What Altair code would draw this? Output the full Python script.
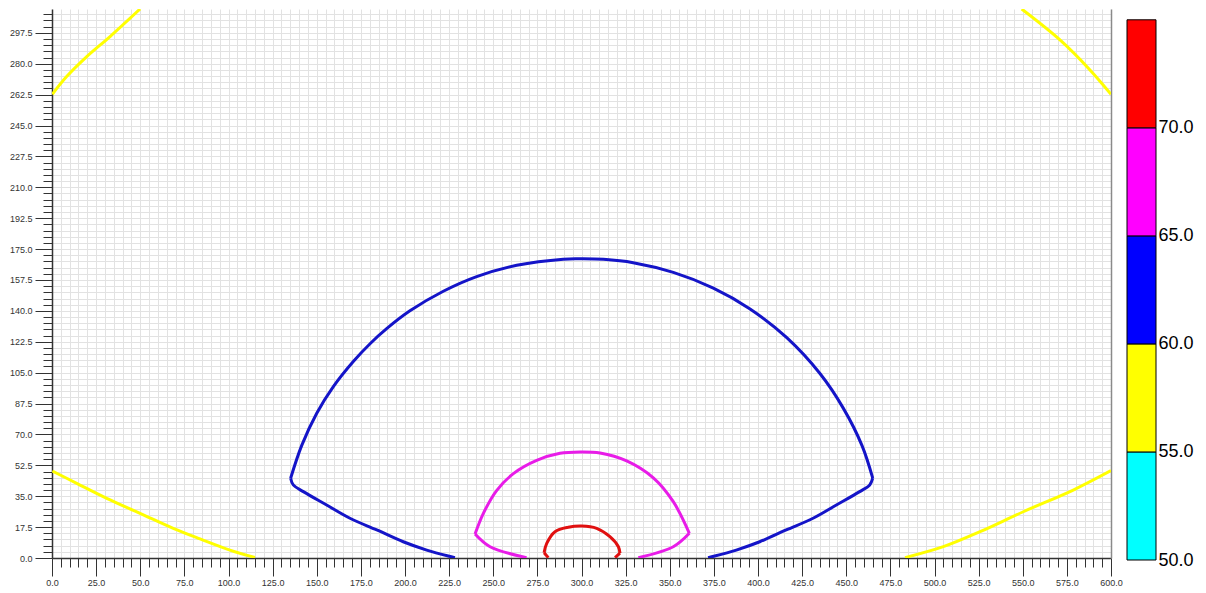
import altair as alt
import pandas as pd

# ---- contour lines (x, y in data units) ----
# level 55 (yellow) : four corner pieces
c55_tl_x = [0.2, 8.3, 19.7, 32.9, 49.9]
c55_tl_y = [262.7, 272.7, 284.0, 295.4, 311.0]
c55_tr_x = [549.4, 571.1, 588.1, 600.0]
c55_tr_y = [311.0, 293.5, 276.5, 262.7]
c55_bl_x = [0.2, 14.0, 31.0, 49.9, 68.7, 83.9, 100.8, 115.0]
c55_bl_y = [49.3, 42.3, 33.8, 25.3, 16.8, 10.8, 4.5, 0.3]
c55_br_x = [483.3, 505.0, 525.8, 550.3, 578.6, 600.0]
c55_br_y = [0.2, 6.4, 14.9, 26.2, 38.5, 49.5]

# level 60 (blue): lower-left leg, upper arc, lower-right leg
c60_ll_x = [228.3, 224.5, 212.3, 199.0, 184.0, 168.8, 155.6, 142.4, 136.7, 135.2]
c60_ll_y = [0.2, 1.1, 4.5, 9.2, 15.9, 22.5, 30.0, 37.6, 41.4, 45.2]
c60_arc_x = [135.2, 141.5, 150.0, 159.4, 170.7, 180.2, 189.6, 202.8, 221.7, 240.6,
             263.3, 289.7, 300.0, 312.4, 329.3, 352.0, 374.7, 395.5, 416.3, 435.1,
             448.3, 459.0, 465.0]
c60_arc_y = [45.2, 63.8, 82.0, 97.1, 111.3, 121.4, 129.9, 140.0, 151.1, 159.4,
             165.8, 169.3, 169.5, 169.2, 167.3, 161.8, 152.9, 141.1, 124.8, 104.5,
             84.9, 63.5, 45.2]
c60_lr_x = [465.0, 463.3, 457.6, 444.4, 431.2, 416.0, 401.0, 387.7, 375.5, 371.7]
c60_lr_y = [45.2, 41.4, 37.6, 30.0, 22.5, 15.9, 9.2, 4.5, 1.1, 0.2]

# level 65 (magenta)
c65_ll_x = [268.9, 248.2, 239.7]
c65_ll_y = [0.2, 6.4, 13.6]
c65_arc_x = [239.7, 244.4, 251.9, 261.4, 274.6, 287.8, 299.2, 310.5, 325.6, 340.7, 352.0, 361.1]
c65_arc_y = [13.6, 25.3, 38.2, 47.8, 55.3, 59.3, 60.1, 59.5, 55.0, 45.4, 31.9, 14.0]
c65_lr_x = [361.1, 352.0, 332.2]
c65_lr_y = [14.0, 6.4, 0.2]

# level 70 (red)
c70_ll_x = [281.2, 278.8]
c70_ll_y = [0.2, 3.0]
c70_arc_x = [278.8, 280.3, 285.0, 292.5, 300.1, 308.6, 316.1, 320.9, 321.8]
c70_arc_y = [3.0, 8.3, 14.9, 17.4, 18.1, 16.8, 12.1, 6.4, 2.7]
c70_lr_x = [321.8, 319.0]
c70_lr_y = [2.7, 0.2]

level_names = ["55", "60", "65", "70"]
line_colors = ["#FFFF00", "#1414C8", "#E81CE8", "#E01010"]

# ---- colour bar ----
bin_lo = [50, 55, 60, 65, 70]
bin_hi = [55, 60, 65, 70, 75]
bin_colors = ["#00FFFF", "#FFFF00", "#0000FF", "#FF00FF", "#FF0000"]
bar_labels = [50, 55, 60, 65, 70]

# ---- axis ticks ----
x_ticks = [i * 5 for i in range(121)]
y_ticks = [i * 3.5 for i in range(89)]

segments = [
    ("55a", "55", c55_tl_x, c55_tl_y),
    ("55b", "55", c55_tr_x, c55_tr_y),
    ("55c", "55", c55_bl_x, c55_bl_y),
    ("55d", "55", c55_br_x, c55_br_y),
    ("60a", "60", c60_ll_x, c60_ll_y),
    ("60b", "60", c60_arc_x, c60_arc_y),
    ("60c", "60", c60_lr_x, c60_lr_y),
    ("65a", "65", c65_ll_x, c65_ll_y),
    ("65b", "65", c65_arc_x, c65_arc_y),
    ("65c", "65", c65_lr_x, c65_lr_y),
    ("70a", "70", c70_ll_x, c70_ll_y),
    ("70b", "70", c70_arc_x, c70_arc_y),
    ("70c", "70", c70_lr_x, c70_lr_y),
]
rows = []
for seg, lev, xs, ys in segments:
    for i, (xv, yv) in enumerate(zip(xs, ys)):
        rows.append({"seg": seg, "level": lev, "i": i, "x": xv, "y": yv})
df = pd.DataFrame(rows)

FONT = "Liberation Sans"
GRID = "#E2E2E2"

xscale = alt.Scale(domain=[0, 600], nice=False, zero=False)
yscale = alt.Scale(domain=[0, 311], nice=False, zero=False)

x_axis = alt.Axis(
    values=x_ticks,
    labelExpr="datum.value % 25 === 0 ? format(datum.value, '.1f') : ''",
    tickSize={"condition": {"test": "datum.value % 25 === 0", "value": 18}, "value": 9},
    labelFontSize=9, labelFont=FONT, labelColor="#333333",
    labelPadding=2, labelFlush=False, labelOverlap=False,
    tickColor="#333333", domainColor="#333333", domainWidth=1.5,
    gridColor=GRID, gridWidth=1, title=None,
)
y_axis = alt.Axis(
    values=y_ticks,
    labelExpr="datum.value % 17.5 === 0 ? format(datum.value, '.1f') : ''",
    tickSize={"condition": {"test": "datum.value % 17.5 === 0", "value": 17}, "value": 9},
    labelFontSize=9, labelFont=FONT, labelColor="#333333",
    labelPadding=3, labelFlush=False, labelOverlap=False,
    tickColor="#333333", domainColor="#333333", domainWidth=1.5,
    gridColor=GRID, gridWidth=1, title=None,
    minExtent=44, maxExtent=44,
)

lines = alt.Chart(df).mark_line(strokeWidth=3, clip=True, interpolate="catmull-rom").encode(
    x=alt.X("x:Q", scale=xscale, axis=x_axis),
    y=alt.Y("y:Q", scale=yscale, axis=y_axis),
    detail="seg:N",
    order="i:Q",
    color=alt.Color("level:N", scale=alt.Scale(domain=level_names, range=line_colors), legend=None),
)

right_edge = alt.Chart(df).mark_point(opacity=0, size=1, clip=True).encode(
    x=alt.X("x:Q", scale=xscale, axis=x_axis),
    y=alt.Y("y:Q", scale=yscale, axis=alt.Axis(orient="right", labels=False, ticks=False,
                                                grid=False, domainColor="#8A8A8A",
                                                domainWidth=1.5, title=None)),
)

main = alt.layer(lines, right_edge).resolve_axis(y="independent").properties(width=1059, height=549)

ldf = pd.DataFrame({"lo": bin_lo, "hi": bin_hi, "c": bin_colors})
legend = alt.Chart(ldf).mark_rect(stroke="black", strokeWidth=1).encode(
    y=alt.Y("lo:Q", scale=alt.Scale(domain=[50, 75.5], nice=False, zero=False),
            axis=alt.Axis(orient="right", values=bar_labels, format=".1f", ticks=False,
                          domain=False, grid=False, labelFontSize=18, labelFont=FONT,
                          labelColor="black", labelPadding=2, labelFlush=False,
                          labelOverlap=False, title=None)),
    y2="hi:Q",
    color=alt.Color("c:N", scale=None),
).properties(width=29, height=551)

chart = alt.hconcat(main, legend, spacing=16, bounds="flush").properties(
    padding={"left": 0, "top": 1, "right": 0, "bottom": 0},
    background="white",
).configure_view(strokeWidth=0)

chart.save("out.html", embed_options={"renderer": "svg", "actions": False})
